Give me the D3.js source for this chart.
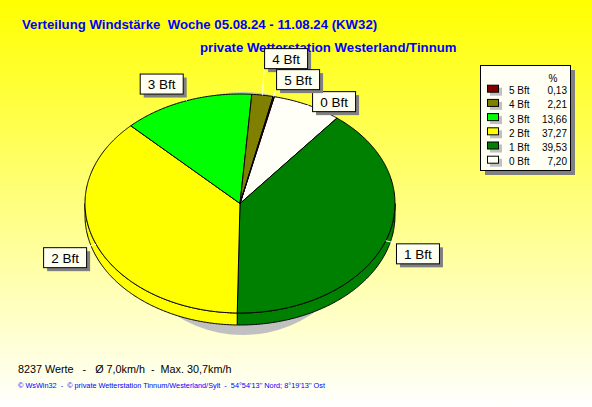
<!DOCTYPE html>
<html><head><meta charset="utf-8">
<script src="https://cdn.jsdelivr.net/npm/d3@7"></script>
<style>html,body{margin:0;padding:0;overflow:hidden;}svg{display:block;} text{white-space:pre;}</style>
</head><body>
<script>
const categories = ["0 Bft","1 Bft","2 Bft","3 Bft","4 Bft","5 Bft"];
const values = [7.20, 39.53, 37.27, 13.66, 2.21, 0.13];
const colors = ["#FFFFF8","#008000","#FFFF00","#00FF00","#808000","#800000"];
const legendOrder = [5,4,3,2,1,0];
const titleLine1 = "Verteilung Windstärke  Woche 05.08.24 - 11.08.24 (KW32)";
const titleLine2 = "private Wetterstation Westerland/Tinnum";
const footer1 = "8237 Werte   -   Ø 7,0km/h  -  Max. 30,7km/h";
const footer2 = "© WsWin32  -  © private Wetterstation Tinnum/Westerland/Sylt  -  54°54'13'' Nord; 8°19'13'' Ost";

const W = 592, H = 407;
const svg = d3.select("body").append("svg").attr("width", W).attr("height", H);
const defs = svg.append("defs");
const grad = defs.append("linearGradient").attr("id","bg").attr("x1",0).attr("y1",0).attr("x2",0).attr("y2",1);
grad.append("stop").attr("offset","0%").attr("stop-color","#FFFF00");
grad.append("stop").attr("offset","100%").attr("stop-color","#FFFFFF");
svg.append("rect").attr("width",W).attr("height",H).attr("fill","url(#bg)");

const font = "Arial, 'Liberation Sans', sans-serif";

// titles
svg.append("text").attr("x",22).attr("y",29).text(titleLine1)
  .attr("font-family",font).attr("font-weight","bold").attr("font-size",13.2).attr("fill","#0000FF");
svg.append("text").attr("x",200).attr("y",52).text(titleLine2)
  .attr("font-family",font).attr("font-weight","bold").attr("font-size",13.2).attr("fill","#0000FF");

// pie geometry
const cx = 240, cy = 203.5, rx = 155, ry = 109.5, depth = 12;
const xs = d3.scaleLinear().domain([-1,1]).range([cx-rx, cx+rx]);
const ys = d3.scaleLinear().domain([-1,1]).range([cy-ry, cy+ry]);
const startA = 12.8 * Math.PI/180;
const pie = d3.pie().sort(null).value(d => d).startAngle(startA).endAngle(startA + 2*Math.PI);
const arcs = pie(values);
const pt = (a, k=1, dy=0) => [xs(k*Math.sin(a)), ys(-k*Math.cos(a)) + dy];
const sample = (a0, a1, dy=0) => {
  const n = Math.max(2, Math.ceil(Math.abs(a1-a0)/0.01));
  return d3.range(n+1).map(i => pt(a0 + (a1-a0)*i/n, 1, dy));
};
const line = d3.line();

// shadow
svg.append("ellipse").attr("cx",cx+3).attr("cy",cy+10).attr("rx",rx-32).attr("ry",ry+12).attr("fill","#C0C0C0");

// side faces
const g = svg.append("g");
arcs.forEach((a,i) => {
  const s = Math.max(a.startAngle, Math.PI/2), e = Math.min(a.endAngle, 3*Math.PI/2);
  if (e <= s) return;
  const pts = sample(s,e,0).concat(sample(e,s,depth));
  g.append("path").attr("d", line(pts) + "Z").attr("fill", colors[i])
    .attr("stroke","#000").attr("stroke-width",1).attr("stroke-linejoin","round");
});
// top faces
arcs.forEach((a,i) => {
  const pts = [[cx,cy]].concat(sample(a.startAngle, a.endAngle, 0));
  g.append("path").attr("d", line(pts) + "Z").attr("fill", colors[i])
    .attr("stroke","#000").attr("stroke-width",1).attr("stroke-linejoin","round");
});

// labels
const bw = 43, bh = 20;
const labels = arcs.map((a,i) => {
  const mid = (a.startAngle + a.endAngle)/2;
  const [ax, ay] = pt(mid, 1);
  const [px, py] = pt(mid, 1.07);
  const right = Math.sin(mid) >= 0, top = Math.cos(mid) > 0;
  return {i, ax, ay, right, top, x: right ? px : px - bw, y: top ? py - bh : py, v: values[i]};
});
const placed = [];
labels.slice().sort((a,b) => a.v - b.v).forEach(l => {
  for (let it = 0; it < 20; it++) {
    const hit = placed.find(b => l.x < b.x + bw && l.x + bw > b.x && l.y < b.y + bh && l.y + bh > b.y);
    if (!hit) break;
    if (l.y + bh/2 < hit.y + bh/2) l.y = hit.y - bh - 1; else l.y = hit.y + bh + 2;
  }
  placed.push(l);
});
const lg = svg.append("g");
labels.forEach(l => {
  const ex = l.right ? l.x : l.x + bw, ey = l.top ? l.y + bh : l.y;
  lg.append("line").attr("x1",l.ax).attr("y1",l.ay).attr("x2",ex).attr("y2",ey)
    .attr("stroke","#FFFFFF").attr("stroke-width",1);
});
labels.forEach(l => {
  lg.append("rect").attr("x",l.x+4).attr("y",l.y+4).attr("width",bw).attr("height",bh).attr("fill","#808080");
  lg.append("rect").attr("x",l.x+0.5).attr("y",l.y+0.5).attr("width",bw).attr("height",bh)
    .attr("fill","#FFFFF0").attr("stroke","#000");
  lg.append("text").attr("x",l.x+bw/2+0.5).attr("y",l.y+bh/2+5.5).attr("text-anchor","middle")
    .attr("font-family",font).attr("font-size",13.5).attr("fill","#000").text(categories[l.i]);
});

// legend
const legX = 480, legY = 65, legW = 90, legH = 105;
svg.append("rect").attr("x",legX+5).attr("y",legY+5).attr("width",legW).attr("height",legH).attr("fill","#808080");
svg.append("rect").attr("x",legX+0.5).attr("y",legY+0.5).attr("width",legW).attr("height",legH)
  .attr("fill","#FFFFF4").attr("stroke","#000");
svg.append("text").attr("x",553).attr("y",81.5).attr("text-anchor","middle")
  .attr("font-family",font).attr("font-size",10).text("%");
const rowY = d3.scalePoint().domain(legendOrder).range([90.7, 161.7]);
const fmt = v => d3.format(".2f")(v).replace(".", ",");
legendOrder.forEach(i => {
  const y = rowY(i);
  svg.append("rect").attr("x",490).attr("y",y-3).attr("width",12).attr("height",8).attr("fill","#C0C0C0");
  svg.append("rect").attr("x",487.5).attr("y",y-5.5).attr("width",11).attr("height",7)
    .attr("fill",colors[i]).attr("stroke","#000");
  svg.append("text").attr("x",509).attr("y",y+3.5).attr("font-family",font).attr("font-size",10).text(categories[i]);
  svg.append("text").attr("x",567).attr("y",y+3.5).attr("text-anchor","end").attr("font-family",font).attr("font-size",10).text(fmt(values[i]));
});

// footers
svg.append("text").attr("x",18).attr("y",373).attr("font-family",font).attr("font-size",10.8).attr("fill","#000").text(footer1);
svg.append("text").attr("x",18).attr("y",388).attr("font-family",font).attr("font-size",7.3).attr("fill","#0000FF").text(footer2);
</script>
</body></html>
